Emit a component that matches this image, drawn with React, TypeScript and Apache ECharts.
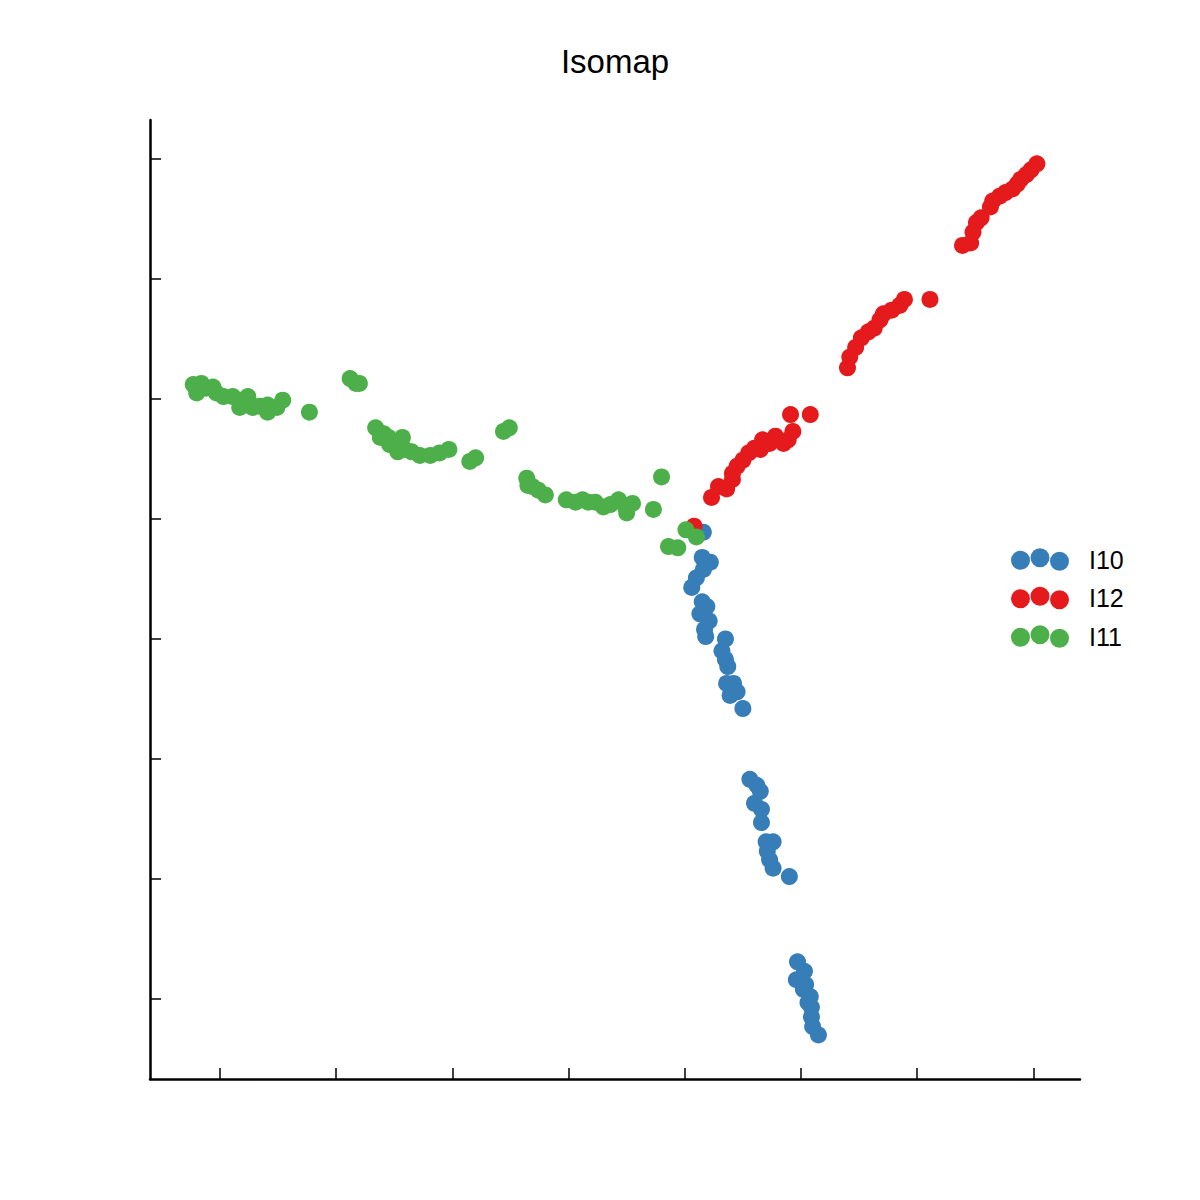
import React, { useEffect, useRef } from "react";
import * as echarts from "echarts";

const seriesNames = ["I10", "I12", "I11"];
const seriesColors = ["#377eb8", "#e41a1c", "#4daf4a"];

const xTicks = [0, 1, 2, 3, 4, 5, 6, 7];
const yTicks = [0, 1, 2, 3, 4, 5, 6, 7];

const i10Points: number[][] = [
  [4.16, 3.89], [4.15, 3.68], [4.22, 3.64], [4.16, 3.58], [4.10, 3.51], [4.06, 3.43],
  [4.15, 3.31], [4.19, 3.27], [4.13, 3.21], [4.21, 3.15], [4.17, 3.08], [4.18, 3.02],
  [4.35, 3.00], [4.32, 2.90], [4.35, 2.83], [4.37, 2.77], [4.36, 2.63], [4.42, 2.63],
  [4.39, 2.53], [4.45, 2.56], [4.50, 2.42],
  [4.56, 1.83], [4.62, 1.78], [4.65, 1.73], [4.60, 1.63], [4.66, 1.58], [4.66, 1.47],
  [4.70, 1.31], [4.76, 1.31], [4.71, 1.23], [4.73, 1.16], [4.76, 1.09], [4.90, 1.02],
  [4.97, 0.31], [5.03, 0.23], [4.96, 0.16], [5.04, 0.12], [5.02, 0.08], [5.08, 0.02],
  [5.06, -0.03], [5.09, -0.07], [5.09, -0.15], [5.10, -0.23], [5.15, -0.30],
];

const i12Points: number[][] = [
  [4.08, 3.94], [4.23, 4.18], [4.29, 4.27], [4.36, 4.25], [4.41, 4.33], [4.41, 4.38],
  [4.45, 4.44], [4.50, 4.49], [4.55, 4.55], [4.60, 4.59], [4.65, 4.58], [4.67, 4.66],
  [4.73, 4.63], [4.78, 4.69], [4.85, 4.63], [4.89, 4.66], [4.93, 4.73], [4.91, 4.87],
  [5.08, 4.87],
  [5.40, 5.26], [5.42, 5.35], [5.47, 5.43], [5.52, 5.51], [5.58, 5.56], [5.63, 5.59],
  [5.68, 5.66], [5.71, 5.71], [5.78, 5.74], [5.85, 5.78], [5.89, 5.83], [6.11, 5.83],
  [6.39, 6.28], [6.46, 6.30], [6.48, 6.39], [6.51, 6.47], [6.55, 6.51], [6.63, 6.60],
  [6.65, 6.65], [6.71, 6.69], [6.76, 6.72], [6.82, 6.75], [6.86, 6.79], [6.89, 6.83],
  [6.94, 6.87], [6.98, 6.91], [7.03, 6.96],
];

const i11Points: number[][] = [
  [-0.23, 5.12], [-0.16, 5.13], [-0.20, 5.05], [-0.12, 5.09], [-0.06, 5.10], [-0.03, 5.05],
  [0.03, 5.02], [0.11, 5.02], [0.17, 4.99], [0.24, 5.02], [0.17, 4.93], [0.28, 4.93],
  [0.34, 4.94], [0.41, 4.95], [0.41, 4.89], [0.49, 4.93], [0.54, 4.99], [0.77, 4.89],
  [1.12, 5.17], [1.17, 5.13], [1.20, 5.13],
  [1.34, 4.76], [1.38, 4.68], [1.41, 4.71], [1.45, 4.68], [1.57, 4.68], [1.46, 4.62],
  [1.53, 4.56], [1.59, 4.58], [1.65, 4.56], [1.72, 4.53], [1.81, 4.53], [1.89, 4.55],
  [1.97, 4.58], [2.15, 4.48], [2.20, 4.51], [2.44, 4.73], [2.49, 4.76],
  [2.64, 4.34], [2.65, 4.28], [2.69, 4.27], [2.74, 4.24], [2.80, 4.20], [2.98, 4.16],
  [3.06, 4.14], [3.12, 4.16], [3.17, 4.14], [3.23, 4.14], [3.30, 4.10], [3.36, 4.12],
  [3.43, 4.16], [3.49, 4.10], [3.50, 4.05], [3.55, 4.13], [3.73, 4.08], [3.80, 4.35],
  [3.86, 3.77], [3.94, 3.76], [4.01, 3.91], [4.10, 3.85],
];

const allPoints = [i10Points, i12Points, i11Points];

const legendIcon =
  "path://M0,12A9.5,9.5,0,1,1,19,12A9.5,9.5,0,1,1,0,12Z" +
  "M19.5,9.5A9.5,9.5,0,1,1,38.5,9.5A9.5,9.5,0,1,1,19.5,9.5Z" +
  "M39,13A9.5,9.5,0,1,1,58,13A9.5,9.5,0,1,1,39,13Z";

const FONT = "Liberation Sans, Arial, Helvetica, sans-serif";

export default function App() {
  const ref = useRef<HTMLDivElement>(null);

  useEffect(() => {
    if (!ref.current) return;
    const chart = echarts.init(ref.current, undefined, { renderer: "svg" });
    const axisCommon = {
      axisLine: { show: true, onZero: false, lineStyle: { color: "#000", width: 2.5 } },
      axisLabel: { show: false },
      splitLine: { show: false },
    };
    chart.setOption({
      animation: false,
      backgroundColor: "#ffffff",
      title: {
        text: "Isomap",
        left: 610,
        top: 40,
        textAlign: "center",
        textStyle: { fontFamily: FONT, fontSize: 33, fontWeight: "normal", color: "#000" },
      },
      grid: { left: 150, right: 120, top: 120, bottom: 121, containLabel: false },
      legend: {
        orient: "vertical",
        left: 1006,
        top: 542,
        itemWidth: 58,
        itemHeight: 22.5,
        itemGap: 13.5,
        icon: legendIcon,
        data: seriesNames,
        textStyle: { fontFamily: FONT, fontSize: 25, color: "#000", padding: [0, 0, 0, 15] },
        selectedMode: false,
      },
      xAxis: {
        type: "value",
        min: -0.602,
        max: 7.401,
        ...axisCommon,
        axisTick: {
          show: true,
          inside: true,
          length: 11,
          customValues: xTicks,
          lineStyle: { color: "#000", width: 1.5 },
        },
      },
      yAxis: {
        type: "value",
        min: -0.667,
        max: 7.325,
        ...axisCommon,
        axisTick: {
          show: true,
          inside: true,
          length: 11,
          customValues: yTicks,
          lineStyle: { color: "#000", width: 1.5 },
        },
      },
      series: seriesNames.map((name, i) => ({
        name,
        type: "scatter",
        data: allPoints[i],
        symbol: "circle",
        symbolSize: 17,
        itemStyle: { color: seriesColors[i], opacity: 1 },
        emphasis: { disabled: true },
      })),
    });
    return () => chart.dispose();
  }, []);

  return (
    <div
      ref={ref}
      style={{ position: "absolute", left: 0, top: 0, width: 1200, height: 1200, background: "#fff" }}
    />
  );
}
